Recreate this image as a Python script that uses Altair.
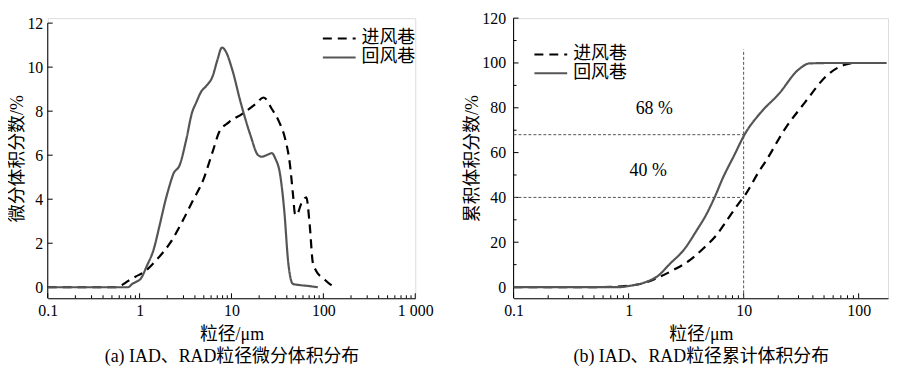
import altair as alt
import pandas as pd

SERIES = ["进风巷", "回风巷"]

# (a) differential volume distribution
a_in_x = [0.1, 0.3, 0.55, 0.62, 0.76, 0.9, 1.1, 1.54, 2.14, 2.97, 3.8, 4.88, 6.25, 7.37, 9.4, 13.1, 18.2, 22.4,
          27.5, 33.1, 38.3, 43.3, 47.0, 49.0, 50.9, 57.5, 65.2, 70.8, 76.9, 83.6, 102, 120, 137]
a_in_y = [0, 0, 0, 0.07, 0.3, 0.48, 0.67, 1.26, 2.0, 3.05, 3.94, 4.83, 6.17, 7.06, 7.5, 7.88, 8.32, 8.62,
          8.1, 7.5, 6.76, 5.57, 4.09, 3.34, 3.27, 3.79, 4.09, 2.9, 1.1, 0.74, 0.37, 0.12, 0]
a_ret_x = [0.1, 0.5, 0.75, 0.83, 0.92, 1.02, 1.2, 1.42, 1.67, 1.9, 2.14, 2.32, 2.74, 3.24, 3.7, 4.14, 4.7, 5.3,
           6.24, 7.0, 7.87, 8.7, 10.2, 12.6, 16.1, 19.5, 21.5, 24.0, 27.5, 30.0, 33.8, 37.5, 41.5, 44.0, 46.8,
           55, 68, 87]
a_ret_y = [0, 0, 0, 0.15, 0.25, 0.37, 0.97, 1.71, 2.9, 3.9, 4.68, 5.13, 5.57, 6.76, 7.9, 8.4, 8.9, 9.14,
           9.59, 10.3, 10.89, 10.7, 9.88, 8.39, 6.9, 6.0, 5.93, 6.0, 6.09, 5.85, 5.13, 3.5, 1.11, 0.4, 0.15,
           0.1, 0.06, 0]

# (b) cumulative volume distribution
b_in_x = [0.1, 0.5, 0.8, 1.0, 1.3, 1.78, 2.47, 3.43, 4.46, 5.79, 7.3, 9.17, 10.4, 13.6, 15.5, 22.9, 34, 53.7,
          74.5, 90.6, 175]
b_in_y = [0, 0, 0.2, 0.6, 1.5, 4.1, 7.7, 12.1, 17.2, 23.1, 30.4, 37.7, 41.4, 51.6, 56, 70.6, 82.3, 94.7,
          99.1, 100, 100]
b_ret_x = [0.1, 0.5, 0.85, 0.99, 1.47, 1.78, 2.32, 3.01, 3.91, 4.76, 5.61, 6.6, 8.3, 10.1, 14.5, 20.1, 29.8,
           37.4, 60, 100, 175]
b_ret_y = [0, 0, 0, 0.44, 2.6, 4.8, 10.7, 16.5, 25.3, 32.6, 40.2, 48.7, 58.9, 67.7, 78.6, 86, 96.9,
           99.8, 100, 100, 100]

# reference lines and notes in (b)
ref_h_y = [68, 40]
ref_v_x = [10]
note_text = ["68 %", "40 %"]
note_x = [1.67, 1.48]
note_y = [79.5, 51.6]

# ticks
a_x_major = [0.1, 1, 10, 100, 1000]
a_x_minor = [k * 10.0 ** e for e in range(-1, 3) for k in range(2, 10)]
a_y_major = [0, 2, 4, 6, 8, 10, 12]
b_x_major = [0.1, 1, 10, 100]
b_x_minor = [k * 10.0 ** e for e in range(-1, 2) for k in range(2, 10)]
b_y_major = [0, 20, 40, 60, 80, 100, 120]
b_y_minor = [10, 30, 50, 70, 90, 110]

FONT = "Liberation Serif, Noto Sans CJK SC"
BLACK = "#000000"
GRAY = "#555555"


def series_df(xs, ys, name):
    return pd.DataFrame({"x": xs, "y": ys, "s": name})


color_scale = alt.Scale(domain=SERIES, range=[BLACK, GRAY])
dash_scale = alt.Scale(domain=SERIES, range=[[9, 6], [1, 0]])


def legend(lx, ly):
    return alt.Legend(title=None, orient="none", legendX=lx, legendY=ly, symbolType="stroke",
                      symbolSize=1089, symbolStrokeWidth=2, labelFont=FONT, labelFontSize=18,
                      labelOffset=5, rowPadding=0, clipHeight=17, padding=0, labelColor=BLACK)


def panel(df, xdom, ydom, ytop, xmaj, xmin, ymaj, ymin, ytitle, xtitle, H, leg, ylabpad):
    xs = alt.Scale(type="log", domain=xdom, nice=False)
    ys = alt.Scale(domain=ydom, nice=False, zero=False)
    xax = alt.Axis(values=xmaj, ticks=False, tickSize=0, grid=False, labelFlush=False, labelOverlap=False,
                   labelExpr="datum.value == 1000 ? '1 000' : toString(datum.value)",
                   labelFont=FONT, labelFontSize=16, labelPadding=4, labelColor=BLACK,
                   domainColor=BLACK, domainWidth=1, title=xtitle, titleFont=FONT, titleFontSize=18,
                   titleFontWeight="normal", titleLineHeight=22, titlePadding=8, titleColor=BLACK)
    yax = alt.Axis(values=ymaj, ticks=False, tickSize=0, grid=False, labelFlush=False, domain=False,
                   labelFont=FONT, labelFontSize=16, labelPadding=ylabpad, labelColor=BLACK,
                   title=ytitle, titleFont=FONT, titleFontSize=18,
                   titleFontWeight="normal", titlePadding=0, titleColor=BLACK)
    X = lambda f: alt.X(f, type="quantitative", scale=xs, axis=xax)
    Y = lambda f: alt.Y(f, type="quantitative", scale=ys, axis=yax)

    lines = alt.Chart(df).mark_line(strokeWidth=2.2, interpolate="monotone").encode(
        x=X("x"), y=Y("y"),
        color=alt.Color("s:N", scale=color_scale, legend=leg, sort=SERIES),
        strokeDash=alt.StrokeDash("s:N", scale=dash_scale, legend=leg, sort=SERIES),
        detail="s:N",
    )
    layers = []
    # y axis line, from the bottom of the scale to the top tick
    ydf = pd.DataFrame({"y": [ydom[0]], "y2": [ytop]})
    layers.append(alt.Chart(ydf).mark_rule(color=BLACK, strokeWidth=1).encode(
        y=Y("y"), y2="y2", x=alt.value(0)))
    tick_sets = [(xmaj, "x", 5), (xmin, "x", 3), (ymaj, "y", 5), (ymin, "y", 3)]
    for vals, ch, ln in tick_sets:
        if not vals:
            continue
        tdf = pd.DataFrame({"v": vals})
        if ch == "x":
            r = alt.Chart(tdf).mark_rule(color=BLACK, strokeWidth=1).encode(
                x=X("v"), y=alt.value(H), y2=alt.value(H - ln))
        else:
            r = alt.Chart(tdf).mark_rule(color=BLACK, strokeWidth=1).encode(
                y=Y("v"), x=alt.value(0), x2=alt.value(ln))
        layers.append(r)
    return lines, layers, X, Y


H = 282
# panel (a): its top tick sits 5 px below the top of the panel
WA = 370
a_unit = (H - 5) / 12.5
a_dom = [-0.5, 12 + 5 / a_unit]
df_a = pd.concat([series_df(a_in_x, a_in_y, SERIES[0]), series_df(a_ret_x, a_ret_y, SERIES[1])])
lines_a, ticks_a, XA, YA = panel(df_a, [0.1, 1000], a_dom, 12, a_x_major, a_x_minor, a_y_major, [],
                                 "微分体积分数/%", ["粒径/μm", "(a) IAD、RAD粒径微分体积分布"], H,
                                 legend(276, 12), 5)
chart_a = alt.layer(*ticks_a, lines_a).properties(width=WA, height=H)

# panel (b)
WB = 377
df_b = pd.concat([series_df(b_in_x, b_in_y, SERIES[0]), series_df(b_ret_x, b_ret_y, SERIES[1])])
lines_b, ticks_b, XB, YB = panel(df_b, [0.1, 180], [-5, 120], 120, b_x_major, b_x_minor, b_y_major, b_y_minor,
                                 "累积体积分数/%", ["粒径/μm", "(b) IAD、RAD粒径累计体积分布"], H,
                                 legend(20, 28), 8)

href = pd.DataFrame({"x": [0.1] * len(ref_h_y), "x2": [ref_v_x[0]] * len(ref_h_y), "y": ref_h_y})
vref = pd.DataFrame({"x": ref_v_x, "y": [-5], "y2": [106]})
notes = pd.DataFrame({"t": note_text, "x": note_x, "y": note_y})

h_rules = alt.Chart(href).mark_rule(color=GRAY, strokeWidth=1, strokeDash=[3, 2]).encode(
    x=XB("x"), x2="x2", y=YB("y"))
v_rules = alt.Chart(vref).mark_rule(color=GRAY, strokeWidth=1, strokeDash=[3, 2]).encode(
    x=XB("x"), y=YB("y"), y2="y2")
note_marks = alt.Chart(notes).mark_text(font=FONT, fontSize=18, color=BLACK).encode(
    x=XB("x"), y=YB("y"), text="t:N")

chart_b = alt.layer(*ticks_b, h_rules, v_rules, note_marks, lines_b).properties(width=WB, height=H)

chart = alt.hconcat(chart_a, chart_b, spacing=29).resolve_scale(
    x="independent", y="independent", color="shared", strokeDash="shared"
).resolve_legend(color="independent", strokeDash="independent").properties(
    padding={"left": 0, "top": 0, "right": 0, "bottom": 0}
).configure_view(stroke=None).configure(background="white")

chart.save("out.html", embed_options={"renderer": "svg", "actions": False})
